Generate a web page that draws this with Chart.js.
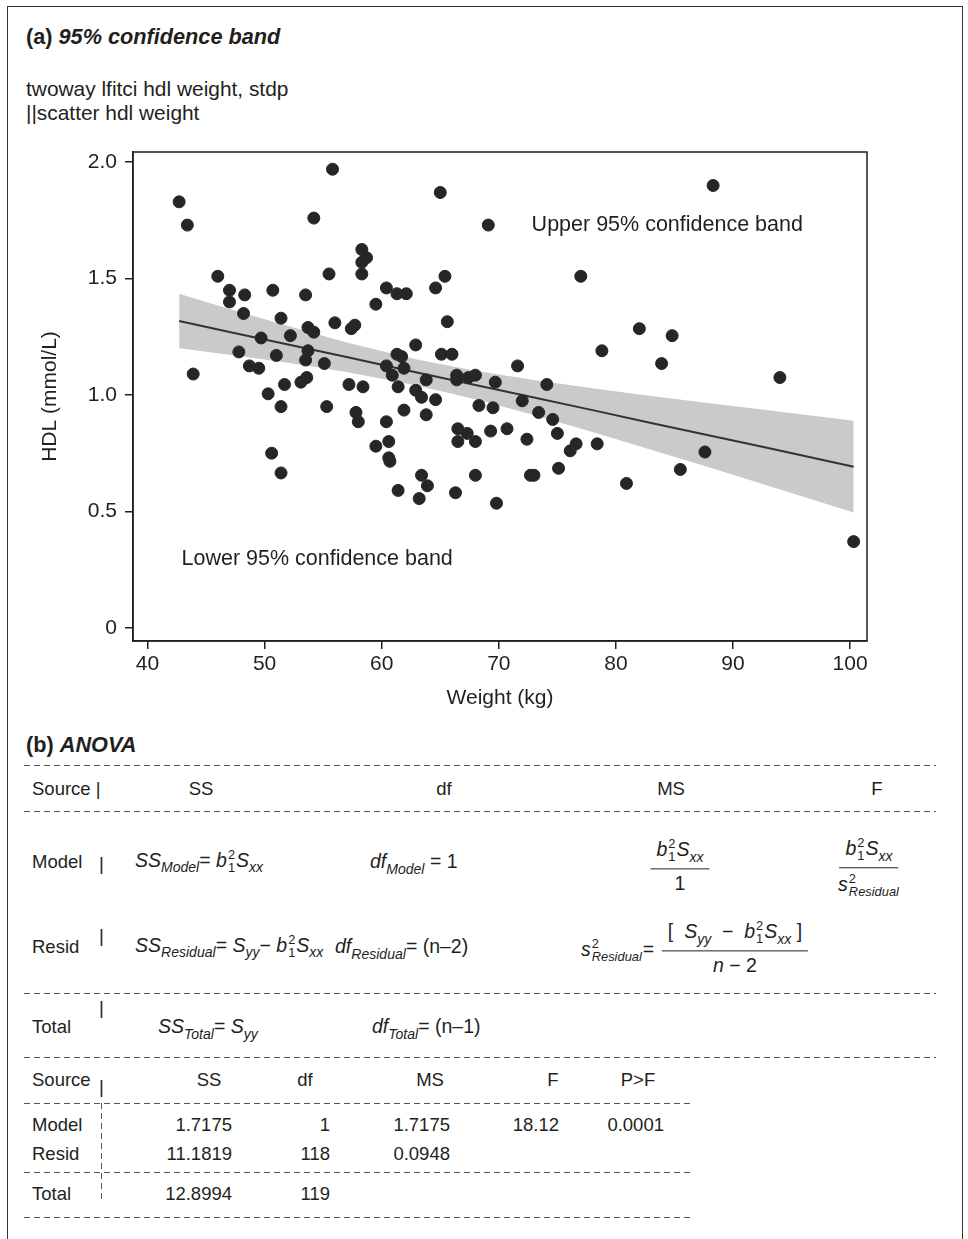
<!DOCTYPE html>
<html>
<head>
<meta charset="utf-8">
<script src="https://cdn.jsdelivr.net/npm/chart.js@4.4.1/dist/chart.umd.min.js"></script>
<style>
  body { margin: 0; background: #fff; font-family: "Liberation Sans", Arial, sans-serif; color: #231f20; }
  #page { position: relative; width: 968px; height: 1239px; overflow: hidden; }
  #frame { position: absolute; left: 7px; top: 6px; width: 954px; height: 1300px; border: 1.5px solid #333; }
  .t { position: absolute; white-space: nowrap; line-height: 1; transform: translateY(-50%); }
  .c { transform: translate(-50%, -50%); }
  .r { transform: translate(-100%, -50%); }
  .head { font-size: 21.7px; font-weight: bold; }
  .cmd { font-size: 20.9px; }
  .tb { font-size: 18.5px; }
  .fx { font-size: 19.5px; }
  .dash { position: absolute; height: 1px; background: repeating-linear-gradient(to right, #555 0 6px, transparent 6px 10px); }
  .vdash { position: absolute; width: 1px; background: repeating-linear-gradient(to bottom, #555 0 6px, transparent 6px 10px); }
  .ss { display: inline-flex; flex-direction: column; vertical-align: middle; font-size: 0.66em; line-height: 1; font-style: normal; margin: 0 1px; }
  sub { font-size: 0.72em; vertical-align: -0.38em; line-height: 0; }
  .fr { display: inline-flex; flex-direction: column; align-items: center; vertical-align: middle; }
  .fr .n { padding: 0 6px 4px; border-bottom: 1.3px solid #231f20; }
  .fr .d { padding-top: 5px; }
  canvas { position: absolute; left: 0; top: 130px; }
</style>
</head>
<body>
<div id="page">
  <div id="frame"></div>
  <div class="t head" style="left:26px;top:37px">(a) <i>95% confidence band</i></div>
  <div class="t cmd" style="left:26px;top:89px">twoway lfitci hdl weight, stdp</div>
  <div class="t cmd" style="left:26px;top:113px">||scatter hdl weight</div>
  <canvas id="myChart" width="968" height="590"></canvas>

  <div class="t head" style="left:26px;top:745px">(b) <i>ANOVA</i></div>
  <div class="dash" style="left:24px;top:765px;width:912px"></div>
  <div class="t tb" style="left:32px;top:789px">Source |</div>
  <div class="t tb c" style="left:201px;top:789px">SS</div>
  <div class="t tb c" style="left:444px;top:789px">df</div>
  <div class="t tb c" style="left:671px;top:789px">MS</div>
  <div class="t tb c" style="left:877px;top:789px">F</div>
  <div class="dash" style="left:24px;top:811px;width:912px"></div>

  <div class="t tb" style="left:32px;top:862px">Model</div>
  <div class="t tb" style="left:99px;top:864px">|</div>
  <div class="t fx" style="left:135px;top:862px"><i>SS</i><sub><i>Model</i></sub>= <i>b</i><span class="ss"><span>2</span><span>1</span></span><i>S</i><sub><i>xx</i></sub></div>
  <div class="t fx" style="left:370px;top:862px"><i>df</i><sub><i>Model</i></sub> = 1</div>
  <div class="t fx c" style="left:680px;top:866px"><span class="fr"><span class="n"><i>b</i><span class="ss"><span>2</span><span>1</span></span><i>S</i><sub><i>xx</i></sub></span><span class="d">1</span></span></div>
  <div class="t fx c" style="left:869px;top:868px"><span class="fr"><span class="n"><i>b</i><span class="ss"><span>2</span><span>1</span></span><i>S</i><sub><i>xx</i></sub></span><span class="d"><i>s</i><span class="ss"><span>2</span><span><i>Residual</i></span></span></span></span></div>

  <div class="t tb" style="left:32px;top:947px">Resid</div>
  <div class="t tb" style="left:99px;top:936px">|</div>
  <div class="t fx" style="left:135px;top:947px"><i>SS</i><sub><i>Residual</i></sub>= <i>S</i><sub><i>yy</i></sub>&minus; <i>b</i><span class="ss"><span>2</span><span>1</span></span><i>S</i><sub><i>xx</i></sub></div>
  <div class="t fx" style="left:335px;top:947px"><i>df</i><sub><i>Residual</i></sub>= (n&ndash;2)</div>
  <div class="t fx" style="left:581px;top:951px"><i>s</i><span class="ss"><span>2</span><span><i>Residual</i></span></span>=</div>
  <div class="t fx c" style="left:735px;top:948px"><span class="fr"><span class="n">[ &nbsp;<i>S</i><sub><i>yy</i></sub> &nbsp;&minus;&nbsp; <i>b</i><span class="ss"><span>2</span><span>1</span></span><i>S</i><sub><i>xx</i></sub> ]</span><span class="d"><i>n</i> &minus; 2</span></span></div>
  <div class="dash" style="left:24px;top:993px;width:912px"></div>

  <div class="t tb" style="left:32px;top:1027px">Total</div>
  <div class="t tb" style="left:99px;top:1008px">|</div>
  <div class="t fx" style="left:158px;top:1027px"><i>SS</i><sub><i>Total</i></sub>= <i>S</i><sub><i>yy</i></sub></div>
  <div class="t fx" style="left:372px;top:1027px"><i>df</i><sub><i>Total</i></sub>= (n&ndash;1)</div>
  <div class="dash" style="left:24px;top:1057px;width:912px"></div>

  <div id="lower"></div>
</div>

<script>
// scatter: weight (kg) and HDL (mmol/L)
const weight = [
  42.7, 43.4, 55.8, 54.2, 46.0, 47.0, 47.0, 48.3, 48.2, 50.7,
  51.4, 53.5, 55.5, 56.0, 57.4, 57.7, 53.7, 54.2, 49.7, 52.2,
  47.8, 51.0, 48.7, 49.5, 43.9, 53.7, 53.5, 55.1, 53.1, 53.6,
  51.7, 57.2, 50.3, 51.4, 55.3, 57.8, 58.0, 50.6, 51.4, 65.0,
  69.1, 58.3, 58.7, 58.3, 58.3, 65.4, 77.0, 60.4, 64.6, 61.3,
  62.1, 59.5, 65.6, 62.9, 61.3, 61.7, 60.4, 60.9, 61.9, 65.1,
  66.0, 63.8, 66.4, 66.4, 67.4, 68.0, 69.7, 71.6, 74.1, 78.8,
  58.4, 61.4, 62.9, 63.4, 64.6, 61.9, 63.8, 68.3, 69.5, 72.0,
  73.4, 74.6, 75.0, 76.6, 76.1, 78.4, 60.4, 59.5, 60.6, 60.6,
  60.7, 66.5, 67.3, 66.5, 68.0, 69.3, 70.7, 72.4, 63.4, 63.9,
  63.2, 61.4, 66.3, 68.0, 69.8, 72.7, 73.0, 75.1, 88.3, 82.0,
  84.8, 83.9, 94.0, 87.6, 85.5, 80.9, 100.3
];
const hdl = [
  1.83, 1.73, 1.97, 1.76, 1.51, 1.45, 1.40, 1.43, 1.35, 1.45,
  1.33, 1.43, 1.52, 1.31, 1.285, 1.30, 1.29, 1.27, 1.245, 1.255,
  1.185, 1.17, 1.125, 1.115, 1.09, 1.19, 1.15, 1.135, 1.055, 1.075,
  1.045, 1.045, 1.005, 0.95, 0.95, 0.925, 0.885, 0.75, 0.665, 1.87,
  1.73, 1.625, 1.59, 1.57, 1.52, 1.51, 1.51, 1.46, 1.46, 1.435,
  1.435, 1.39, 1.315, 1.215, 1.175, 1.165, 1.125, 1.085, 1.115, 1.175,
  1.175, 1.065, 1.085, 1.065, 1.075, 1.085, 1.055, 1.125, 1.045, 1.19,
  1.035, 1.035, 1.02, 0.99, 0.98, 0.935, 0.915, 0.955, 0.945, 0.975,
  0.925, 0.895, 0.835, 0.79, 0.76, 0.79, 0.885, 0.78, 0.80, 0.73,
  0.715, 0.855, 0.835, 0.80, 0.80, 0.845, 0.855, 0.81, 0.655, 0.61,
  0.555, 0.59, 0.58, 0.655, 0.535, 0.655, 0.655, 0.685, 1.90, 1.285,
  1.255, 1.135, 1.075, 0.755, 0.68, 0.62, 0.37
];

// fitted line and 95% band (stdp), read at these weights
const bandX = [42.7, 47, 52, 57, 63, 68, 73, 78, 83, 88, 93, 100.3];
const fitted = [1.318, 1.271, 1.217, 1.163, 1.097, 1.043, 0.989, 0.935, 0.880, 0.826, 0.772, 0.692];
const bandUpper = [1.435, 1.369, 1.296, 1.226, 1.153, 1.104, 1.064, 1.029, 0.996, 0.965, 0.934, 0.889];
const bandLower = [1.201, 1.173, 1.138, 1.099, 1.041, 0.982, 0.914, 0.841, 0.765, 0.688, 0.610, 0.495];

const xTicks = [40, 50, 60, 70, 80, 90, 100];
const yTicks = [0, 0.5, 1, 1.5, 2];
const yTickLabels = ['0', '0.5', '1.0', '1.5', '2.0'];

// ANOVA output
const anovaRows = ['Model', 'Resid', 'Total'];
const anovaSS = [1.7175, 11.1819, 12.8994];
const anovaDf = [1, 118, 119];
const anovaMS = [1.7175, 0.0948];
const anovaF = [18.12];
const anovaP = [0.0001];

const fontFamily = '"Liberation Sans", Arial, sans-serif';
const ink = '#231f20';

const toPoints = (xs, ys) => xs.map((x, i) => ({ x: x, y: ys[i] }));

const framePlugin = {
    id: 'frame',
    afterDraw(chart) {
        const { ctx, chartArea } = chart;
        ctx.save();
        ctx.strokeStyle = ink;
        ctx.lineWidth = 1.5;
        ctx.strokeRect(chartArea.left, chartArea.top, chartArea.right - chartArea.left, chartArea.bottom - chartArea.top);
        ctx.restore();
    }
};

const labelPlugin = {
    id: 'bandLabels',
    afterDatasetsDraw(chart) {
        const { ctx, scales } = chart;
        ctx.save();
        ctx.fillStyle = ink;
        ctx.font = '21.5px ' + fontFamily;
        ctx.textAlign = 'left';
        ctx.textBaseline = 'middle';
        ctx.fillText('Upper 95% confidence band', scales.x.getPixelForValue(72.8), scales.y.getPixelForValue(1.73));
        ctx.fillText('Lower 95% confidence band', scales.x.getPixelForValue(42.9), scales.y.getPixelForValue(0.295));
        ctx.restore();
    }
};

const canvasContext = document.getElementById('myChart').getContext('2d');

const myChart = new Chart(canvasContext, {
    type: 'scatter',
    data: {
        datasets: [
            {
                label: 'hdl',
                type: 'scatter',
                data: toPoints(weight, hdl),
                backgroundColor: '#262626',
                borderColor: '#262626',
                pointRadius: 6,
                order: 0,
            },
            {
                label: 'fit',
                type: 'line',
                showLine: true,
                data: toPoints(bandX, fitted),
                borderColor: '#333',
                borderWidth: 2,
                pointRadius: 0,
                fill: false,
                order: 1,
            },
            {
                label: 'upper',
                type: 'line',
                showLine: true,
                data: toPoints(bandX, bandUpper),
                borderColor: 'rgba(0,0,0,0)',
                backgroundColor: '#c9cacc',
                pointRadius: 0,
                fill: '+1',
                order: 2,
            },
            {
                label: 'lower',
                type: 'line',
                showLine: true,
                data: toPoints(bandX, bandLower),
                borderColor: 'rgba(0,0,0,0)',
                pointRadius: 0,
                fill: false,
                order: 3,
            }
        ],
    },
    options: {
        responsive: false,
        animation: false,
        layout: { padding: { left: 0, right: 101, top: 22, bottom: 0 } },
        plugins: {
            legend: { display: false },
            tooltip: { enabled: false },
        },
        scales: {
            x: {
                type: 'linear',
                min: 38.76,
                max: 101.44,
                afterBuildTicks: (axis) => { axis.ticks = xTicks.map(v => ({ value: v })); },
                afterFit: (axis) => { axis.height = 79; },
                grid: { drawOnChartArea: false, drawTicks: true, tickLength: 8, color: ink, lineWidth: 1.5 },
                border: { display: true, color: ink, width: 1.5 },
                ticks: { color: ink, font: { size: 21, family: fontFamily }, padding: 3, maxRotation: 0, autoSkip: false },
                title: { display: true, text: 'Weight (kg)', color: ink, font: { size: 21, family: fontFamily }, padding: { top: 0, bottom: 9 } },
            },
            y: {
                min: -0.057,
                max: 2.044,
                afterBuildTicks: (axis) => { axis.ticks = yTicks.map(v => ({ value: v })); },
                afterFit: (axis) => { axis.width = 133; },
                grid: { drawOnChartArea: false, drawTicks: true, tickLength: 8, color: ink, lineWidth: 1.5 },
                border: { display: true, color: ink, width: 1.5 },
                ticks: {
                    color: ink,
                    font: { size: 21, family: fontFamily },
                    padding: 8,
                    autoSkip: false,
                    callback: (value) => yTickLabels[yTicks.indexOf(value)],
                },
                title: { display: true, text: 'HDL (mmol/L)', color: ink, font: { size: 21, family: fontFamily }, padding: { top: 38, bottom: 0 } },
            }
        }
    },
    plugins: [framePlugin, labelPlugin]
});

// lower ANOVA table built from the arrays
const lower = document.getElementById('lower');
const put = (html, x, y, cls) => {
    const d = document.createElement('div');
    d.className = 't tb ' + (cls || '');
    d.style.left = x + 'px';
    d.style.top = y + 'px';
    d.innerHTML = html;
    lower.appendChild(d);
};
const rule = (y) => {
    const d = document.createElement('div');
    d.className = 'dash';
    d.style.cssText = 'left:24px;top:' + y + 'px;width:667px';
    lower.appendChild(d);
};

put('Source', 32, 1080);
put('|', 99, 1087);
put('SS', 209, 1080, 'c');
put('df', 305, 1080, 'c');
put('MS', 430, 1080, 'c');
put('F', 553, 1080, 'c');
put('P&gt;F', 638, 1080, 'c');
rule(1103);

const rowY = [1125, 1154, 1194];
anovaRows.forEach((name, i) => {
    put(name, 32, rowY[i]);
    put(anovaSS[i].toFixed(4), 232, rowY[i], 'r');
    put(String(anovaDf[i]), 330, rowY[i], 'r');
    if (i < anovaMS.length) put(anovaMS[i].toFixed(4), 450, rowY[i], 'r');
    if (i < anovaF.length) put(anovaF[i].toFixed(2), 559, rowY[i], 'r');
    if (i < anovaP.length) put(anovaP[i].toFixed(4), 664, rowY[i], 'r');
});
rule(1172);
rule(1217);

const vd = document.createElement('div');
vd.className = 'vdash';
vd.style.cssText = 'left:101px;top:1103px;height:98px';
lower.appendChild(vd);
</script>
</body>
</html>
